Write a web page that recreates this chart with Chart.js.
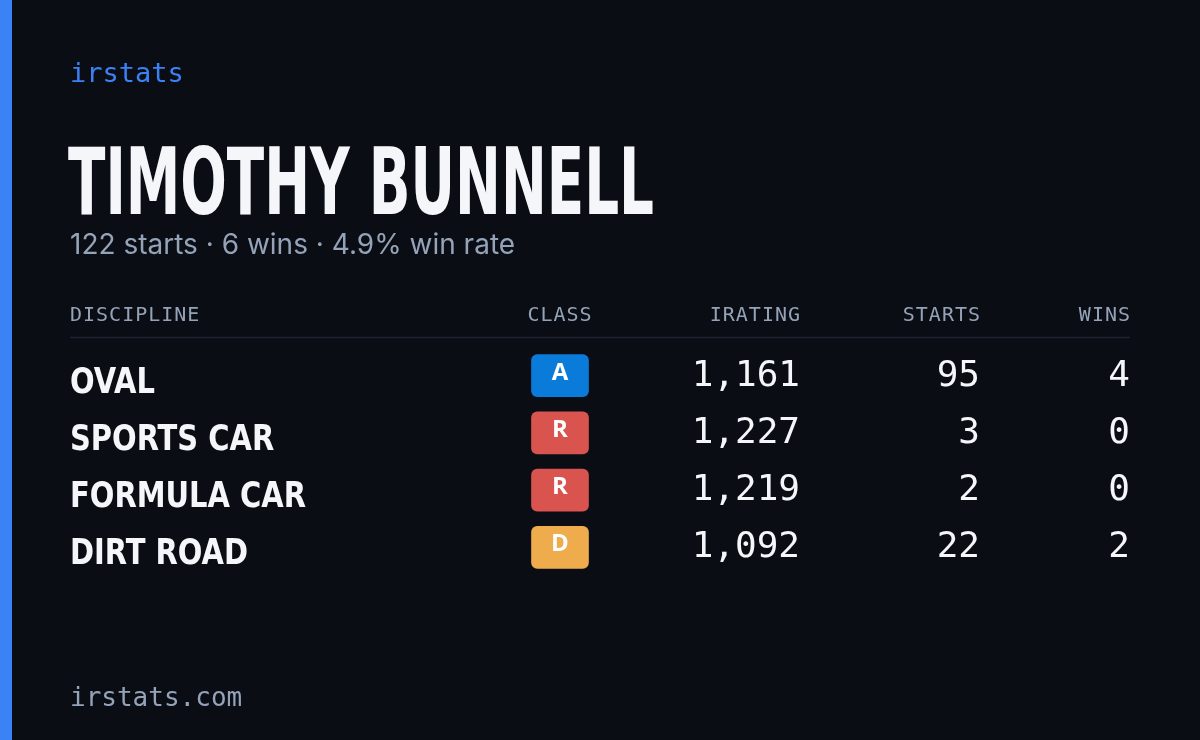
<!DOCTYPE html>
<html>
<head>
<meta charset="utf-8">
<script src="https://cdn.jsdelivr.net/npm/chart.js@4"></script>
<style>
  html, body { margin: 0; padding: 0; background: #0a0d14; }
  #wrap { position: relative; width: 1200px; height: 740px; }
</style>
</head>
<body>
<div id="wrap"><canvas id="card" width="1200" height="740"></canvas></div>
<script>
// Card data
const playerName = 'TIMOTHY BUNNELL';
const summary = '122 starts · 6 wins · 4.9% win rate';
const headers = ['DISCIPLINE', 'CLASS', 'IRATING', 'STARTS', 'WINS'];
const disciplines = ['OVAL', 'SPORTS CAR', 'FORMULA CAR', 'DIRT ROAD'];
const classes = ['A', 'R', 'R', 'D'];
const iratings = [1161, 1227, 1219, 1092];
const starts = [95, 3, 2, 22];
const wins = [4, 0, 0, 2];

const classColors = { A: '#0a7bd8', R: '#d9534f', D: '#eeac4c' };
const mono = '"DejaVu Sans Mono", monospace';
const narrow = '"Liberation Sans Narrow", "DejaVu Sans Condensed", sans-serif';
const badgeX = 560, badgeW = 57;

// draw text squeezed to a target width
function fitText(ctx, text, x, y, targetW) {
  const w = ctx.measureText(text).width;
  ctx.save();
  ctx.translate(x, y);
  ctx.scale(targetW / w, 1);
  ctx.fillText(text, 0, 0);
  ctx.restore();
}

const cardPlugin = {
  id: 'card',
  beforeDraw(chart) {
    const ctx = chart.ctx;
    ctx.save();
    ctx.fillStyle = '#0a0d14';
    ctx.fillRect(0, 0, 1200, 740);
    ctx.fillStyle = '#3b82f6';
    ctx.fillRect(0, 0, 12, 740);
    ctx.restore();
  },
  afterDatasetsDraw(chart) {
    const ctx = chart.ctx;
    const x = chart.scales.x, y = chart.scales.y;
    ctx.save();
    ctx.textBaseline = 'alphabetic';

    ctx.fillStyle = '#3b82f6';
    ctx.font = '27px ' + mono;
    ctx.fillText('irstats', 70, 82);

    ctx.fillStyle = '#f4f6fa';
    ctx.font = 'bold 92px ' + narrow;
    fitText(ctx, playerName, 68, 214, 586);

    ctx.fillStyle = '#94a3b8';
    ctx.font = '28px Inter, sans-serif';
    ctx.fillText(summary, 70, 254);

    // header row
    const cols = [
      { x: 70, align: 'left' }, { x: badgeX, align: 'center' },
      { x: 800, align: 'right' }, { x: 980, align: 'right' }, { x: 1130, align: 'right' }
    ];
    ctx.font = '20px ' + mono;
    ctx.letterSpacing = '1px';
    ctx.fillStyle = '#94a3b8';
    headers.forEach((h, i) => {
      ctx.textAlign = cols[i].align;
      ctx.fillText(h, x.getPixelForValue(cols[i].x) + (cols[i].align === 'right' ? 1 : 0), 321);
    });
    ctx.letterSpacing = '0px';
    ctx.strokeStyle = '#1e2330';
    ctx.lineWidth = 1.5;
    ctx.beginPath();
    ctx.moveTo(70, 337.5);
    ctx.lineTo(1130, 337.5);
    ctx.stroke();

    disciplines.forEach((d, i) => {
      const py = y.getPixelForValue(i);
      ctx.fillStyle = '#f4f6fa';
      ctx.textAlign = 'left';
      ctx.font = 'bold 35px ' + narrow;
      const w = ctx.measureText(d).width;
      fitText(ctx, d, 70, py + 17, w * 0.92);

      ctx.textAlign = 'center';
      ctx.font = 'bold 24px "Open Sans", sans-serif';
      ctx.fillStyle = '#ffffff';
      ctx.fillText(classes[i], x.getPixelForValue(badgeX), py + 4);

      ctx.textAlign = 'right';
      ctx.font = '36px ' + mono;
      ctx.fillStyle = '#f4f6fa';
      ctx.fillText(iratings[i].toLocaleString('en-US'), x.getPixelForValue(800), py + 10);
      ctx.fillText(String(starts[i]), x.getPixelForValue(980), py + 10);
      ctx.fillText(String(wins[i]), x.getPixelForValue(1130), py + 10);
    });

    ctx.textAlign = 'left';
    ctx.fillStyle = '#94a3b8';
    ctx.font = '26px ' + mono;
    ctx.fillText('irstats.com', 70, 706);
    ctx.restore();
  }
};

new Chart(document.getElementById('card').getContext('2d'), {
  type: 'bar',
  data: {
    labels: disciplines,
    datasets: [{
      data: classes.map(() => [badgeX - badgeW / 2, badgeX + badgeW / 2]),
      backgroundColor: classes.map(c => classColors[c]),
      borderRadius: 6,
      borderSkipped: false,
      barThickness: 42
    }]
  },
  options: {
    indexAxis: 'y',
    responsive: false,
    animation: false,
    layout: { padding: { left: 0, right: 0, top: 347, bottom: 164 } },
    scales: {
      x: { type: 'linear', min: 0, max: 1200, display: false },
      y: { type: 'category', offset: true, display: false }
    },
    plugins: { legend: { display: false }, tooltip: { enabled: false } }
  },
  plugins: [cardPlugin]
});
</script>
</body>
</html>
